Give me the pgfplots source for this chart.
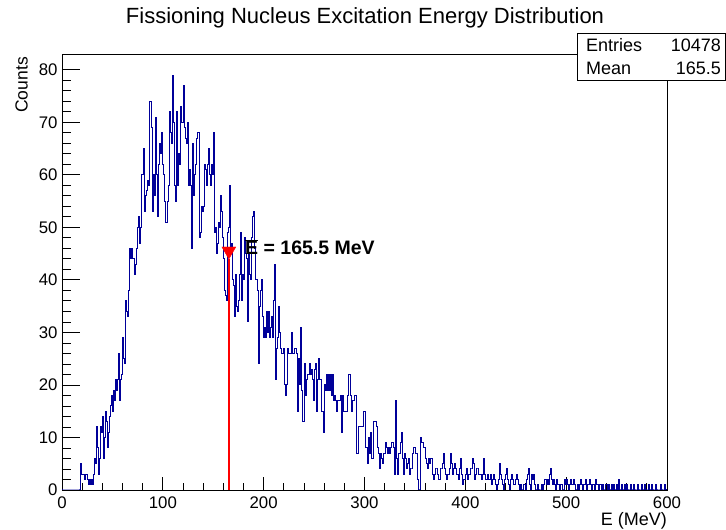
\documentclass[border=0pt]{standalone}
\usepackage{pgfplots}
\usepackage{pgfplotstable}
\usepackage{fontspec}
\setmainfont{Liberation Sans}
\pgfplotsset{compat=1.18}

\definecolor{histblue}{rgb}{0,0,0.6}

% Excitation energy spectrum, 1 MeV bins from 0 to 600 MeV (counts per bin)
\pgfplotstableread[row sep=\\]{
c\\
0\\0\\0\\0\\0\\0\\0\\0\\0\\0\\
0\\0\\0\\0\\0\\0\\0\\0\\5\\3\\
3\\3\\2\\3\\3\\2\\1\\2\\1\\2\\
1\\3\\6\\5\\12\\8\\3\\6\\12\\11\\
14\\6\\10\\15\\13\\8\\11\\14\\16\\18\\
15\\19\\17\\21\\19\\21\\26\\17\\21\\22\\
29\\25\\24\\36\\34\\33\\38\\46\\44\\46\\
44\\44\\41\\43\\46\\50\\52\\47\\50\\60\\
60\\65\\53\\56\\57\\59\\58\\74\\74\\69\\
53\\60\\56\\71\\60\\52\\62\\66\\64\\68\\
62\\60\\55\\51\\51\\55\\58\\72\\68\\66\\
79\\70\\58\\55\\72\\58\\64\\62\\73\\70\\
77\\69\\67\\66\\70\\58\\61\\58\\46\\66\\
56\\60\\62\\67\\68\\68\\48\\49\\54\\53\\
54\\62\\61\\58\\62\\65\\60\\58\\62\\60\\
68\\49\\50\\45\\47\\51\\50\\56\\53\\48\\
44\\38\\37\\36\\49\\50\\58\\45\\47\\40\\
39\\33\\41\\35\\34\\36\\41\\49\\36\\41\\
40\\48\\45\\44\\32\\45\\41\\40\\48\\52\\
53\\46\\40\\40\\38\\24\\35\\38\\40\\33\\
29\\31\\29\\34\\30\\34\\29\\31\\33\\29\\
36\\43\\21\\27\\29\\35\\30\\27\\26\\26\\
27\\20\\18\\20\\27\\26\\26\\26\\30\\26\\
26\\27\\27\\26\\15\\25\\20\\31\\19\\13\\
24\\18\\21\\22\\22\\24\\22\\23\\21\\17\\
23\\24\\15\\21\\25\\21\\21\\15\\15\\11\\
20\\19\\22\\19\\22\\19\\22\\18\\22\\17\\
18\\17\\15\\17\\17\\17\\18\\11\\18\\15\\
15\\15\\15\\18\\22\\22\\18\\15\\17\\17\\
18\\18\\7\\7\\12\\12\\12\\12\\12\\15\\
15\\8\\8\\5\\10\\7\\11\\6\\6\\13\\
13\\13\\12\\8\\7\\4\\7\\6\\5\\7\\
7\\9\\8\\7\\8\\7\\8\\9\\9\\8\\
3\\17\\6\\3\\7\\7\\9\\11\\6\\3\\
7\\6\\4\\5\\6\\3\\4\\4\\7\\8\\
8\\7\\7\\2\\0\\0\\10\\9\\9\\8\\
6\\5\\4\\6\\5\\6\\6\\3\\2\\3\\
4\\4\\3\\2\\2\\4\\4\\5\\7\\4\\
3\\2\\3\\3\\4\\7\\5\\3\\4\\5\\
4\\3\\3\\2\\4\\6\\3\\1\\2\\2\\
3\\4\\2\\3\\3\\4\\4\\6\\5\\2\\
3\\4\\4\\3\\3\\3\\2\\3\\6\\3\\
2\\2\\3\\2\\2\\3\\1\\2\\3\\2\\
1\\0\\1\\2\\5\\3\\2\\1\\0\\2\\
3\\4\\2\\1\\0\\2\\3\\2\\1\\1\\
2\\3\\2\\1\\0\\1\\0\\0\\1\\1\\
0\\2\\3\\4\\1\\0\\3\\2\\3\\1\\
0\\0\\1\\0\\0\\0\\1\\0\\1\\2\\
1\\2\\1\\3\\4\\2\\1\\2\\1\\0\\
2\\1\\1\\0\\1\\1\\0\\0\\2\\1\\
2\\1\\0\\1\\2\\1\\1\\2\\1\\0\\
0\\1\\0\\1\\2\\1\\0\\1\\1\\2\\
0\\1\\1\\2\\1\\0\\1\\1\\0\\2\\
1\\1\\0\\1\\1\\0\\1\\0\\0\\1\\
1\\0\\1\\0\\0\\1\\0\\1\\0\\0\\
1\\0\\2\\0\\0\\1\\0\\0\\1\\0\\
1\\0\\0\\0\\1\\0\\0\\1\\0\\0\\
0\\1\\0\\0\\0\\1\\0\\0\\1\\0\\
0\\0\\1\\0\\0\\1\\0\\0\\0\\1\\
0\\0\\0\\0\\1\\0\\0\\0\\1\\0\\
0\\
}\hdata

\begin{document}
\begin{tikzpicture}[x=1pt,y=1pt]
\useasboundingbox (0,0) rectangle (726,530);

\pgfplotsset{
  rootaxis/.style={
    scale only axis, width=605pt, height=436pt,
    at={(62pt,40pt)}, anchor=south west,
    xmin=0, xmax=600, ymin=0, ymax=83,
    axis line style={line width=0.8pt},
    tick align=inside,
    tick style={black, line width=0.8pt},
    /pgf/number format/assume math mode=true,
    tick label style={font=\fontsize{16.8}{20}\selectfont},
  }
}

% main axis: frame, x ticks, histogram
\begin{axis}[rootaxis, name=ax,
  xtick={0,100,...,600}, minor x tick num=4, xtick pos=bottom,
  ytick=\empty,
  major tick length=13pt, minor tick length=6.5pt,
  xticklabel style={yshift=-3pt},
]
\addplot[const plot, draw=histblue, line width=1pt]
  table[x expr=\coordindex, y=c]{\hdata};
% mean marker
\addplot[red, line width=2pt] coordinates {(165.5,0) (165.5,44)};
\addplot[red, only marks, mark=triangle*, mark size=8pt,
  mark options={rotate=180, fill=red, draw=red}] coordinates {(165.5,45.5)};
\node[anchor=west, inner sep=0pt, font=\fontsize{19.5}{23}\selectfont\bfseries]
  at (axis cs:181.5,46.2) {$\overline{\mbox{\bfseries E}}$ = 165.5 MeV};
\end{axis}

% y ticks (longer, as drawn along the x extent)
\begin{axis}[rootaxis,
  axis line style={draw=none},
  xtick=\empty,
  ytick={0,10,...,80}, minor y tick num=4, ytick pos=left,
  major tick length=18pt, minor tick length=9pt,
  yticklabel style={xshift=-1pt},
]
\end{axis}

% title and axis titles
\node[font=\fontsize{22}{26}\selectfont] at (365,512) {Fissioning Nucleus Excitation Energy Distribution};
\node[rotate=90, anchor=south east, inner sep=0pt, font=\fontsize{17.5}{20}\selectfont] at (28,473) {Counts};
\node[anchor=south east, inner sep=0pt, font=\fontsize{18}{21}\selectfont] at (667,1) {E (MeV)};

% statistics box
\draw[fill=white, line width=0.8pt] (577,450) rectangle (725.5,497);
\node[anchor=west, inner sep=0pt, font=\fontsize{18}{21}\selectfont] at (586,485) {Entries};
\node[anchor=east, inner sep=0pt, font=\fontsize{18}{21}\selectfont] at (721,485) {10478};
\node[anchor=west, inner sep=0pt, font=\fontsize{18}{21}\selectfont] at (586,462) {Mean};
\node[anchor=east, inner sep=0pt, font=\fontsize{18}{21}\selectfont] at (721,462) {165.5};
\end{tikzpicture}
\end{document}
